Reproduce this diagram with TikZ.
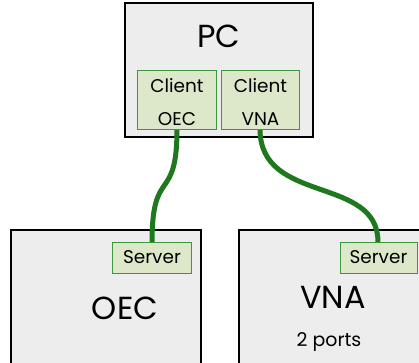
\documentclass[tikz,border=0pt]{standalone}
\usepackage{fontspec}
\setmainfont{Poppins}
\definecolor{boxgray}{RGB}{237,237,237}
\definecolor{portfill}{RGB}{221,232,203}
\definecolor{portline}{RGB}{60,150,60}
\definecolor{wire}{RGB}{30,120,30}
\tikzset{
  unit/.style={draw=black, fill=boxgray, line width=1.8bp},
  port/.style={draw=portline, fill=portfill, line width=1bp, inner sep=0pt,
    align=center, font=\fontsize{18.5}{34}\selectfont},
  portlabel/.style={inner sep=0pt, align=center, font=\fontsize{18.5}{34}\selectfont},
  cable/.style={draw=wire, line width=5bp},
  bigtext/.style={font=\fontsize{32}{34}\selectfont, inner sep=0pt},
}
\begin{document}
\begin{tikzpicture}[x=1bp,y=-1bp]
\useasboundingbox (0,0) rectangle (419,363);
\clip (0,0) rectangle (419,363);
% equipment boxes
\draw[unit] (125,3) rectangle (313,137);
\draw[unit] (11,230) rectangle (201,380);
\draw[unit] (239,230) rectangle (430,380);
\node[bigtext] (pc) at (219,36) {PC};
\node[bigtext] (oec) at (125,308) {OEC};
\node[bigtext] (vna) at (333,297) {VNA};
\node[inner sep=0pt, font=\fontsize{19}{20}\selectfont] (ports) at (329,342) {2 ports};
% port anchors
\coordinate (coec) at (177,129);
\coordinate (cvna) at (260,129);
\coordinate (soec) at (152,242);
\coordinate (svna) at (378,242);
% cables
\draw[cable] (coec) .. controls (177,205) and (152,165) .. (soec);
\draw[cable] (cvna) .. controls (260,205) and (378,175) .. (svna);
% client ports (box, then its two-line label a little below centre)
\node[port, minimum width=78bp, minimum height=59bp] (clientoec) at (177,99.5) {};
\node[portlabel] (clientoectext) at ([yshift=-2.5bp]clientoec.center) {Client\\OEC};
\node[port, minimum width=77bp, minimum height=59bp] (clientvna) at (260.5,99.5) {};
\node[portlabel] (clientvnatext) at ([yshift=-2.5bp]clientvna.center) {Client\\VNA};
% server ports
\node[port, minimum width=78bp, minimum height=31bp] (serveroec) at (152,257.5) {Server};
\node[port, minimum width=77bp, minimum height=31bp] (servervna) at (378.5,257.5) {Server};
\end{tikzpicture}
\end{document}
